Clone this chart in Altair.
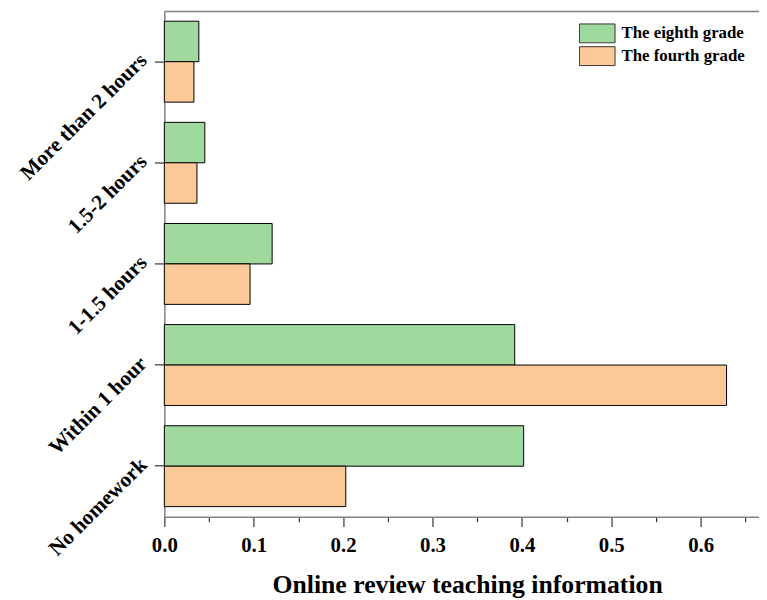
import altair as alt
import pandas as pd

categories = ["More than 2 hours", "1.5-2 hours", "1-1.5 hours", "Within 1 hour", "No homework"]
grades = ["The eighth grade", "The fourth grade"]
eighth = [0.0386, 0.0453, 0.1206, 0.392, 0.402]
fourth = [0.0331, 0.0365, 0.0959, 0.629, 0.203]
colors = ["#a0d99e", "#fbc898"]
x_ticks = [0.0, 0.05, 0.1, 0.15, 0.2, 0.25, 0.3, 0.35, 0.4, 0.45, 0.5, 0.55, 0.6, 0.65]

rows = []
for c, e, f in zip(categories, eighth, fourth):
    rows.append({"category": c, "grade": grades[0], "value": e})
    rows.append({"category": c, "grade": grades[1], "value": f})
df = pd.DataFrame(rows)

FONT = "Liberation Serif"
xscale = alt.Scale(domain=[0, 0.6653], nice=False, zero=True)

bars = alt.Chart(df).mark_bar(stroke="black", strokeWidth=1).encode(
    x=alt.X("value:Q", scale=xscale,
            axis=alt.Axis(values=x_ticks,
                          labelExpr="round(datum.value*100) % 10 == 0 ? format(datum.value, '.1f') : ''",
                          tickSize={"condition": {"test": "round(datum.value*100) % 10 != 0", "value": 5}, "value": 10},
                          title="Online review teaching information",
                          titleFontSize=26, titleFont=FONT, titleFontWeight="bold",
                          titleColor="black", titlePadding=17, titleX=306, titleAlign="center",
                          labelFont=FONT, labelFontSize=21, labelFontWeight="bold",
                          labelColor="black", labelPadding=8, labelFlush=False,
                          domainColor="#808080", domainWidth=1.5,
                          tickColor="#333333", tickWidth=1.2, grid=False)),
    y=alt.Y("category:N", sort=categories,
            scale=alt.Scale(paddingInner=0.2, paddingOuter=0.1),
            axis=alt.Axis(title=None, labelAngle=315, labelAlign="right", labelBaseline="alphabetic",
                          labelFont=FONT, labelFontSize=21.5, labelFontWeight="bold",
                          labelColor="black", labelPadding=7, tickSize=10,
                          domainColor="#808080", domainWidth=1.5,
                          tickColor="#333333", tickWidth=1.2, grid=False, labelLimit=400)),
    yOffset=alt.YOffset("grade:N", sort=grades, scale=alt.Scale(paddingInner=0, paddingOuter=0)),
    color=alt.Color("grade:N", sort=grades,
                    scale=alt.Scale(domain=grades, range=colors),
                    legend=alt.Legend(title=None, orient="none", legendX=419, legendY=12,
                                      symbolType="M-1,-0.53L1,-0.53L1,0.53L-1,0.53Z",
                                      symbolSize=1296, symbolStrokeColor="#333333",
                                      symbolStrokeWidth=1, symbolOpacity=1,
                                      clipHeight=21, labelOffset=6,
                                      labelFont=FONT, labelFontSize=17, labelFontWeight="bold",
                                      labelColor="black", labelLimit=300, padding=0)),
)

top_frame = alt.Chart(df).mark_point(opacity=0).encode(
    x=alt.X("value:Q", scale=xscale,
            axis=alt.Axis(orient="top", labels=False, ticks=False, title=None, grid=False,
                          domainColor="#808080", domainWidth=1.5)),
)

chart = alt.layer(bars, top_frame).resolve_axis(x="independent").properties(
    width=601, height=511,
    autosize=alt.AutoSizeParams(type="none"),
    padding={"left": 158, "top": 0, "right": 0, "bottom": 81},
).configure_view(strokeWidth=0)

chart.save("out.html", embed_options={"renderer": "svg", "actions": False})
